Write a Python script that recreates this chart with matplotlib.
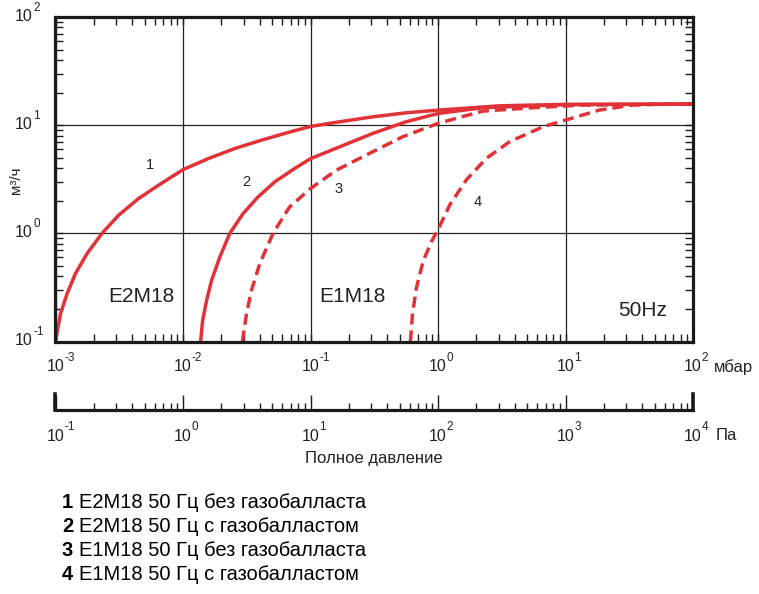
import matplotlib
matplotlib.use("Agg")
import matplotlib.pyplot as plt

plt.rcParams["font.family"] = ["Liberation Sans", "DejaVu Sans"]

RED = "#e03237"
INK = "#222222"

# pumping speed curves, pressure in mbar, speed in m3/h
c1_p = [1.0e-3, 1.094e-3, 1.233e-3, 1.432e-3, 1.766e-3, 2.317e-3, 3.126e-3, 4.477e-3,
        6.412e-3, 1.005e-2, 1.578e-2, 2.547e-2, 4.121e-2, 6.653e-2, 0.1, 0.1687,
        0.3069, 0.5598, 1.0, 3.041, 10, 100]
c1_s = [0.1, 0.1803, 0.2767, 0.4236, 0.6486, 1.0, 1.469, 2.094,
        2.78, 3.89, 4.909, 6.081, 7.261, 8.551, 9.727, 10.74,
        11.94, 13.0, 13.77, 15.1, 15.56, 15.67]

c2_p = [1.374e-2, 1.426e-2, 1.531e-2, 1.675e-2, 1.945e-2, 2.328e-2, 2.958e-2, 3.873e-2,
        5.236e-2, 7.499e-2, 0.1, 0.1687, 0.3069, 0.5598, 1.0, 2.239, 5.521, 10, 100]
c2_s = [0.1, 0.1563, 0.2399, 0.3673, 0.6039, 1.0, 1.521, 2.168,
        2.985, 3.972, 4.898, 6.295, 8.375, 10.74, 12.82, 14.49, 15.1, 15.49, 15.67]

c3_p = [2.924e-2, 3.148e-2, 3.443e-2, 3.999e-2, 5.082e-2, 6.855e-2, 0.1, 0.1589,
        0.2891, 0.526, 1.0, 2.239, 5.521, 13.61, 100]
c3_s = [0.1, 0.1803, 0.2965, 0.5236, 1.0, 1.754, 2.594, 3.828,
        5.47, 7.798, 10.38, 13.49, 14.49, 15.35, 15.67]

c4_p = [0.6081, 0.6295, 0.6761, 0.7621, 0.8872, 1.012, 1.236, 1.667,
        2.393, 3.648, 6.653, 10, 18.49, 33.73, 56.23, 100]
c4_s = [0.1, 0.1758, 0.3105, 0.547, 0.8356, 1.112, 1.828, 3.112,
        4.932, 7.031, 9.66, 11.14, 13.8, 15.35, 15.67, 15.67]

curve_nums = ["1", "2", "3", "4"]
num_pos = [(5.5e-3, 4.28), (3.15e-2, 2.96), (0.167, 2.56), (2.05, 1.96)]
models = ["E2M18", "E1M18"]
model_pos = [(4.74e-3, 0.26), (0.214, 0.26)]

mbar_exps = [-3, -2, -1, 0, 1, 2]
pa_exps = [-1, 0, 1, 2, 3, 4]
y_exps = [-1, 0, 1, 2]

legend_lines = [("1", "E2M18 50 Гц без газобалласта"),
                ("2", "E2M18 50 Гц с газобалластом"),
                ("3", "E1M18 50 Гц без газобалласта"),
                ("4", "E1M18 50 Гц с газобалластом")]

W, H = 759, 594
fig = plt.figure(figsize=(W / 100, H / 100), dpi=100)

L, R, B, T = 55.5, 693, 341.5, 17
ax = fig.add_axes([L / W, 1 - B / H, (R - L) / W, (B - T) / H])
ax.set_xscale("log")
ax.set_yscale("log")
ax.set_xlim(1e-3, 1e2)
ax.set_ylim(1e-1, 1e2)

ax.plot(c4_p, c4_s, color=RED, lw=2.5, dashes=(3.2, 1.7))
ax.plot(c3_p, c3_s, color=RED, lw=2.5, dashes=(3.2, 1.7))
ax.plot(c2_p, c2_s, color=RED, lw=2.5)
ax.plot(c1_p, c1_s, color=RED, lw=2.5)

ax.grid(True, which="major", color=INK, lw=0.9)
ax.set_axisbelow(True)
for s in ax.spines.values():
    s.set_linewidth(2.3)
    s.set_color("#1a1a1a")
ax.tick_params(which="both", direction="in", top=True, right=True,
               labelbottom=False, labelleft=False, color="#1a1a1a", width=1)
ax.tick_params(which="major", length=6)
ax.tick_params(which="minor", length=5.5)

for n, (x, y) in zip(curve_nums, num_pos):
    ax.text(x, y, n, fontsize=10.5, color=INK, ha="center", va="center")
for m, (x, y) in zip(models, model_pos):
    ax.text(x, y, m, fontsize=15, color=INK, ha="center", va="center")
ax.text(40.2, 0.195, "50Hz", fontsize=15, color=INK, ha="center", va="center")


def dec_label(axis, x, exp, dy):
    # "10" centred on the tick, exponent up and to the right
    axis.annotate("10", (x, 0), xycoords=("data", "axes fraction"),
                  xytext=(0, dy), textcoords="offset points",
                  ha="center", va="center", fontsize=11.5, color=INK)
    axis.annotate(str(exp).replace("-", "\u2010"), (x, 0), xycoords=("data", "axes fraction"),
                  xytext=(6.3, dy + 6.3), textcoords="offset points",
                  ha="left", va="center", fontsize=8.5, color=INK)


for e in mbar_exps:
    dec_label(ax, 10.0 ** e, e, -18.3)
for e in y_exps:
    ax.annotate("10", (0, 10.0 ** e), xycoords=("axes fraction", "data"),
                xytext=(-16.5, 0.5), textcoords="offset points",
                ha="right", va="center", fontsize=11.5, color=INK)
    ax.annotate(str(e).replace("-", "\u2010"), (0, 10.0 ** e), xycoords=("axes fraction", "data"),
                xytext=(-16, 6.5), textcoords="offset points",
                ha="left", va="center", fontsize=8.5, color=INK)

narrow = ["Liberation Sans Narrow", "Liberation Sans", "DejaVu Sans"]
fig.text(714 / W, 1 - 367 / H, "мбар", fontsize=12, family=narrow,
         ha="left", va="center", color=INK)
fig.text(16 / W, 1 - 180 / H, "м³/ч", fontsize=11, rotation=90,
         ha="center", va="center", color=INK)

# second scale in Pa
AY = 410
ax2 = fig.add_axes([L / W, 1 - AY / H, (R - L) / W, 16 / H])
ax2.set_facecolor("none")
ax2.set_xscale("log")
ax2.set_xlim(1e-1, 1e4)
ax2.set_yticks([])
ax2.spines["top"].set_visible(False)
ax2.spines["bottom"].set_linewidth(2.3)
ax2.spines["left"].set_linewidth(2.6)
ax2.spines["right"].set_linewidth(2.6)
for s in ax2.spines.values():
    s.set_color("#1a1a1a")
ax2.tick_params(which="both", direction="in", labelbottom=False, color="#1a1a1a", width=1)
ax2.tick_params(which="major", length=11)
ax2.tick_params(which="minor", length=5)
for e in pa_exps:
    dec_label(ax2, 10.0 ** e, e, -18.8)
fig.text(716 / W, 1 - 436 / H, "Па", fontsize=12, family=narrow,
         ha="left", va="center", color=INK)
fig.text(374 / W, 1 - 459 / H, "Полное давление", fontsize=12, family=narrow,
         ha="center", va="center", color=INK)

for i, (n, txt) in enumerate(legend_lines):
    y = 1 - (503 + 24 * i) / H
    fig.text(62 / W, y, n, fontsize=14.5, fontweight="bold", ha="left", va="center",
             color="black")
    fig.text(79 / W, y, txt, fontsize=14.5, ha="left", va="center", color="black")

fig.savefig("out.png", dpi=100)
